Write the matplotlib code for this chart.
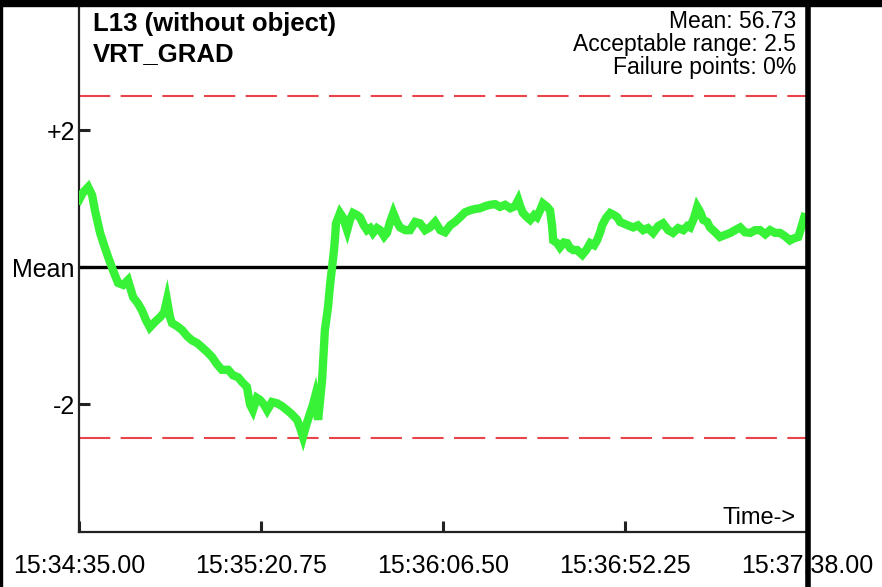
import matplotlib
matplotlib.use("Agg")
import matplotlib.pyplot as plt
from matplotlib.patches import Rectangle
from matplotlib.lines import Line2D

plt.rcParams['font.family'] = ['Liberation Sans', 'DejaVu Sans']

# seconds since 15:34:35.00 and deviation from mean
t_sec = [0.0, 1.0, 2.3, 3.3, 4.0, 5.3, 6.3, 7.3, 8.5, 9.8, 11.1, 12.3, 13.6, 14.8,
         15.8, 16.8, 17.8, 19.1, 20.4, 21.4, 22.1, 22.9, 23.4, 24.6, 25.9, 27.2,
         28.4, 29.7, 30.9, 32.2, 33.4, 34.7, 35.9, 37.5, 38.7, 40.0, 41.0, 42.2,
         43.0, 43.7, 44.7, 45.5, 46.5, 47.3, 48.5, 49.8, 51.0, 52.3, 53.5, 54.8,
         55.6, 56.3, 57.1, 58.1, 58.8, 59.3, 60.1, 60.6, 61.1, 61.8, 62.6, 63.1,
         63.6, 64.1, 64.4, 64.6, 65.6, 66.4, 67.4, 68.1, 68.9, 69.9, 70.6, 71.6,
         72.4, 73.2, 73.9, 74.9, 75.7, 76.7, 77.4, 78.2, 79.0, 79.9, 80.7, 82.0,
         83.2, 84.5, 85.7, 87.0, 88.2, 89.5, 90.8, 92.0, 93.3, 94.5, 95.8, 97.0,
         98.3, 99.6, 100.8, 102.1, 103.3, 104.6, 105.8, 107.1, 108.4, 109.6, 110.4,
         110.9, 111.6, 112.6, 113.4, 114.4, 115.1, 115.9, 116.6, 117.7, 118.4,
         118.9, 119.2, 120.2, 120.9, 121.9, 122.7, 123.4, 124.2, 125.2, 126.5,
         127.5, 128.5, 129.5, 130.2, 131.0, 131.5, 132.5, 133.5, 134.5, 135.3,
         136.0, 136.8, 138.0, 139.3, 140.5, 141.8, 143.0, 144.3, 145.6, 146.8,
         148.1, 149.3, 150.6, 151.9, 152.9, 153.6, 154.6, 155.4, 156.2, 156.9,
         157.9, 158.6, 159.9, 161.1, 162.4, 163.7, 164.9, 166.2, 167.4, 168.7,
         170.0, 171.2, 172.5, 173.7, 175.0, 176.2, 177.5, 178.7, 179.7, 180.8,
         181.5, 182.3]
deviation = [0.98, 1.09, 1.17, 1.05, 0.83, 0.50, 0.32, 0.15, -0.04, -0.23, -0.26, -0.19,
             -0.44, -0.53, -0.63, -0.77, -0.88, -0.80, -0.73, -0.66, -0.48, -0.74,
             -0.82, -0.86, -0.92, -1.01, -1.07, -1.11, -1.17, -1.24, -1.31, -1.42,
             -1.50, -1.50, -1.58, -1.61, -1.68, -1.75, -2.01, -2.09, -1.91, -1.94,
             -2.01, -2.09, -1.97, -1.99, -2.03, -2.09, -2.15, -2.23, -2.35, -2.48,
             -2.31, -2.13, -2.01, -1.90, -2.23, -1.94, -1.65, -0.92, -0.58, -0.26,
             0.0, 0.25, 0.47, 0.64, 0.79, 0.72, 0.54, 0.69, 0.79, 0.76, 0.73, 0.61,
             0.54, 0.57, 0.50, 0.57, 0.54, 0.45, 0.50, 0.66, 0.79, 0.66, 0.58, 0.54,
             0.54, 0.66, 0.64, 0.54, 0.58, 0.66, 0.54, 0.51, 0.61, 0.66, 0.73, 0.80,
             0.83, 0.85, 0.86, 0.89, 0.91, 0.92, 0.88, 0.91, 0.86, 0.89, 0.98, 0.89,
             0.79, 0.73, 0.69, 0.76, 0.73, 0.83, 0.93, 0.88, 0.83, 0.61, 0.39, 0.35,
             0.29, 0.36, 0.35, 0.28, 0.25, 0.25, 0.18, 0.25, 0.35, 0.32, 0.39, 0.51,
             0.61, 0.72, 0.79, 0.76, 0.73, 0.66, 0.64, 0.61, 0.58, 0.61, 0.54, 0.57,
             0.50, 0.60, 0.64, 0.54, 0.50, 0.57, 0.54, 0.60, 0.58, 0.72, 0.88, 0.80,
             0.69, 0.66, 0.58, 0.51, 0.44, 0.47, 0.50, 0.54, 0.58, 0.51, 0.50, 0.54,
             0.54, 0.48, 0.54, 0.50, 0.50, 0.45, 0.39, 0.42, 0.44, 0.57, 0.73]

x_ticks = [0.0, 45.75, 91.5, 137.25, 183.0]
x_labels = ['15:34:35.00', '15:35:20.75', '15:36:06.50', '15:36:52.25', '15:37:38.00']
y_ticks = [-2, 0, 2]
y_labels = ['-2', 'Mean', '+2']
limit = 2.5

fig = plt.figure(figsize=(8.82, 5.87), dpi=100)
ax = fig.add_axes([0.0896, 0.0937, 0.8254, 0.8978])

# acceptable range and mean
ax.axhline(limit, color='#e8444a', lw=1.5, dashes=(15, 5), zorder=1)
ax.axhline(-limit, color='#e8444a', lw=1.5, dashes=(15, 5), zorder=1)
ax.axhline(0, color='black', lw=2.4, zorder=2)

ax.plot(t_sec, deviation, color='#38f238', lw=6, solid_joinstyle='miter', zorder=3)

ax.set_xlim(0, 183)
ax.set_ylim(-3.87, 3.83)
ax.set_xticks(x_ticks)
ax.set_xticklabels(x_labels, fontsize=18)
ax.set_yticks(y_ticks)
ax.set_yticklabels(y_labels, fontsize=18)
ax.tick_params(axis='x', direction='in', length=8, width=2.2, pad=16, colors='#222222',
               labelcolor='black')
ax.tick_params(axis='y', direction='in', length=8, width=2.2, pad=3, colors='#222222',
               labelcolor='black')

for s in ['top', 'right']:
    ax.spines[s].set_visible(False)
for s in ['left', 'bottom']:
    ax.spines[s].set_linewidth(1.6)
    ax.spines[s].set_color('#222222')

# title block
ax.text(0.019, 0.986, 'L13 (without object)', transform=ax.transAxes, fontsize=18.5,
        fontweight='bold', va='top', ha='left')
ax.text(0.019, 0.929, 'VRT_GRAD', transform=ax.transAxes, fontsize=18.5,
        fontweight='bold', va='top', ha='left')

info = ['Mean: 56.73', 'Acceptable range: 2.5', 'Failure points: 0%']
for i, line in enumerate(info):
    ax.text(0.985, 0.990 - i * 0.0435, line, transform=ax.transAxes, fontsize=16.5,
            va='top', ha='right')

ax.text(0.985, 0.006, 'Time->', transform=ax.transAxes, fontsize=17,
        va='bottom', ha='right')

# frame pieces around the picture
fig.add_artist(Rectangle((0, 1 - 6 / 587), 1, 6 / 587, transform=fig.transFigure,
                         color='black', zorder=5))
fig.add_artist(Rectangle((0, 0), 2 / 882, 1, transform=fig.transFigure,
                         color='black', zorder=5))
fig.add_artist(Line2D([807.5 / 882, 807.5 / 882], [0, 1], transform=fig.transFigure,
                      color='black', lw=4, zorder=5))

fig.savefig('out.png', dpi=100, facecolor='white')
